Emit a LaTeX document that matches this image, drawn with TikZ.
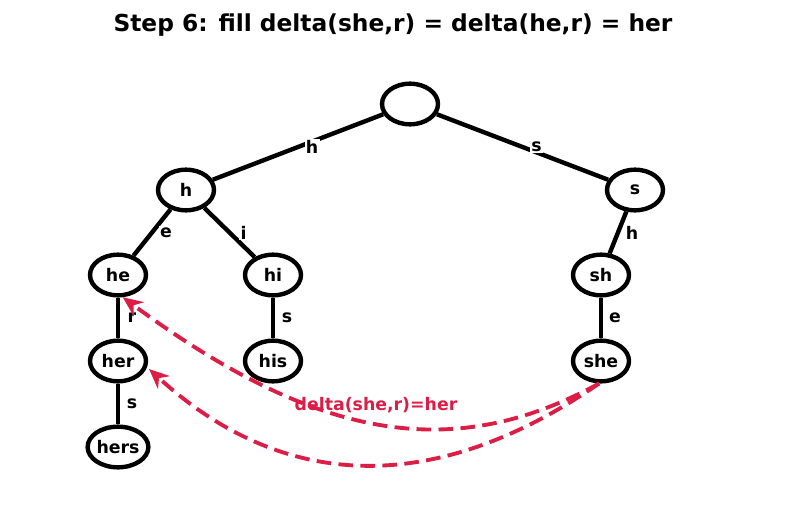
\documentclass[tikz,border=0pt]{standalone}
\usepackage{fontspec}
\setmainfont{DejaVu Sans}
\usetikzlibrary{arrows.meta, shapes.geometric}
\definecolor{deltared}{RGB}{220,30,70}

\begin{document}
\begin{tikzpicture}[
    x=0.75pt, y=-0.75pt,
    statenode/.style={ellipse, draw=black, line width=3.3pt, inner sep=0pt, minimum width=42pt, minimum height=30.5pt, font=\fontsize{13}{15}\selectfont\bfseries},
    edgelabel/.style={midway, xshift=10.5pt, fill=white, inner sep=1pt, font=\fontsize{13}{15}\selectfont\bfseries},
    treeedge/.style={line width=3.3pt},
    deltaarrow/.style={draw=deltared, line width=2.9pt, dash pattern=on 11pt off 5.5pt, -{Stealth[length=15pt, width=13pt, fill=deltared]}}
]
\useasboundingbox (0,0) rectangle (787,510);

% Title
\node (title) at (393,25) {\fontsize{17.5}{20}\selectfont\bfseries Step 6: fill delta(she,r) = delta(he,r) = her};

% Nodes
\node[statenode] (root) at (410,104) {};
\node[statenode] (h)    at (186,190) {h};
\node[statenode] (s)    at (635,190) {s};
\node[statenode] (he)   at (118,275) {he};
\node[statenode] (hi)   at (273,275) {hi};
\node[statenode] (sh)   at (601,275) {sh};
\node[statenode] (her)  at (118,361) {her};
\node[statenode] (his)  at (273,361) {his};
\node[statenode] (she)  at (601,361) {she};
\node[statenode] (hers) at (118,447) {hers};

% Edges
\draw[treeedge] (root) -- (h) node[edgelabel] {h};
\draw[treeedge] (root) -- (s) node[edgelabel] {s};
\draw[treeedge] (h) -- (he) node[edgelabel] {e};
\draw[treeedge] (h) -- (hi) node[edgelabel] {i};
\draw[treeedge] (s) -- (sh) node[edgelabel] {h};
\draw[treeedge] (he) -- (her) node[edgelabel] {r};
\draw[treeedge] (hi) -- (his) node[edgelabel] {s};
\draw[treeedge] (sh) -- (she) node[edgelabel] {e};
\draw[treeedge] (her) -- (hers) node[edgelabel] {s};

% Failure links
\draw[deltaarrow] (she.-95) .. controls +(-150,82) and +(190,140) .. (he.-78);
\draw[deltaarrow, shorten >=2pt] (she.-95) .. controls +(-160,110) and +(140,128) .. (her.-12);
\node[text=deltared, font=\fontsize{13}{15}\selectfont\bfseries] (deltalabel) at (376,405) {delta(she,r)=her};

\end{tikzpicture}
\end{document}
